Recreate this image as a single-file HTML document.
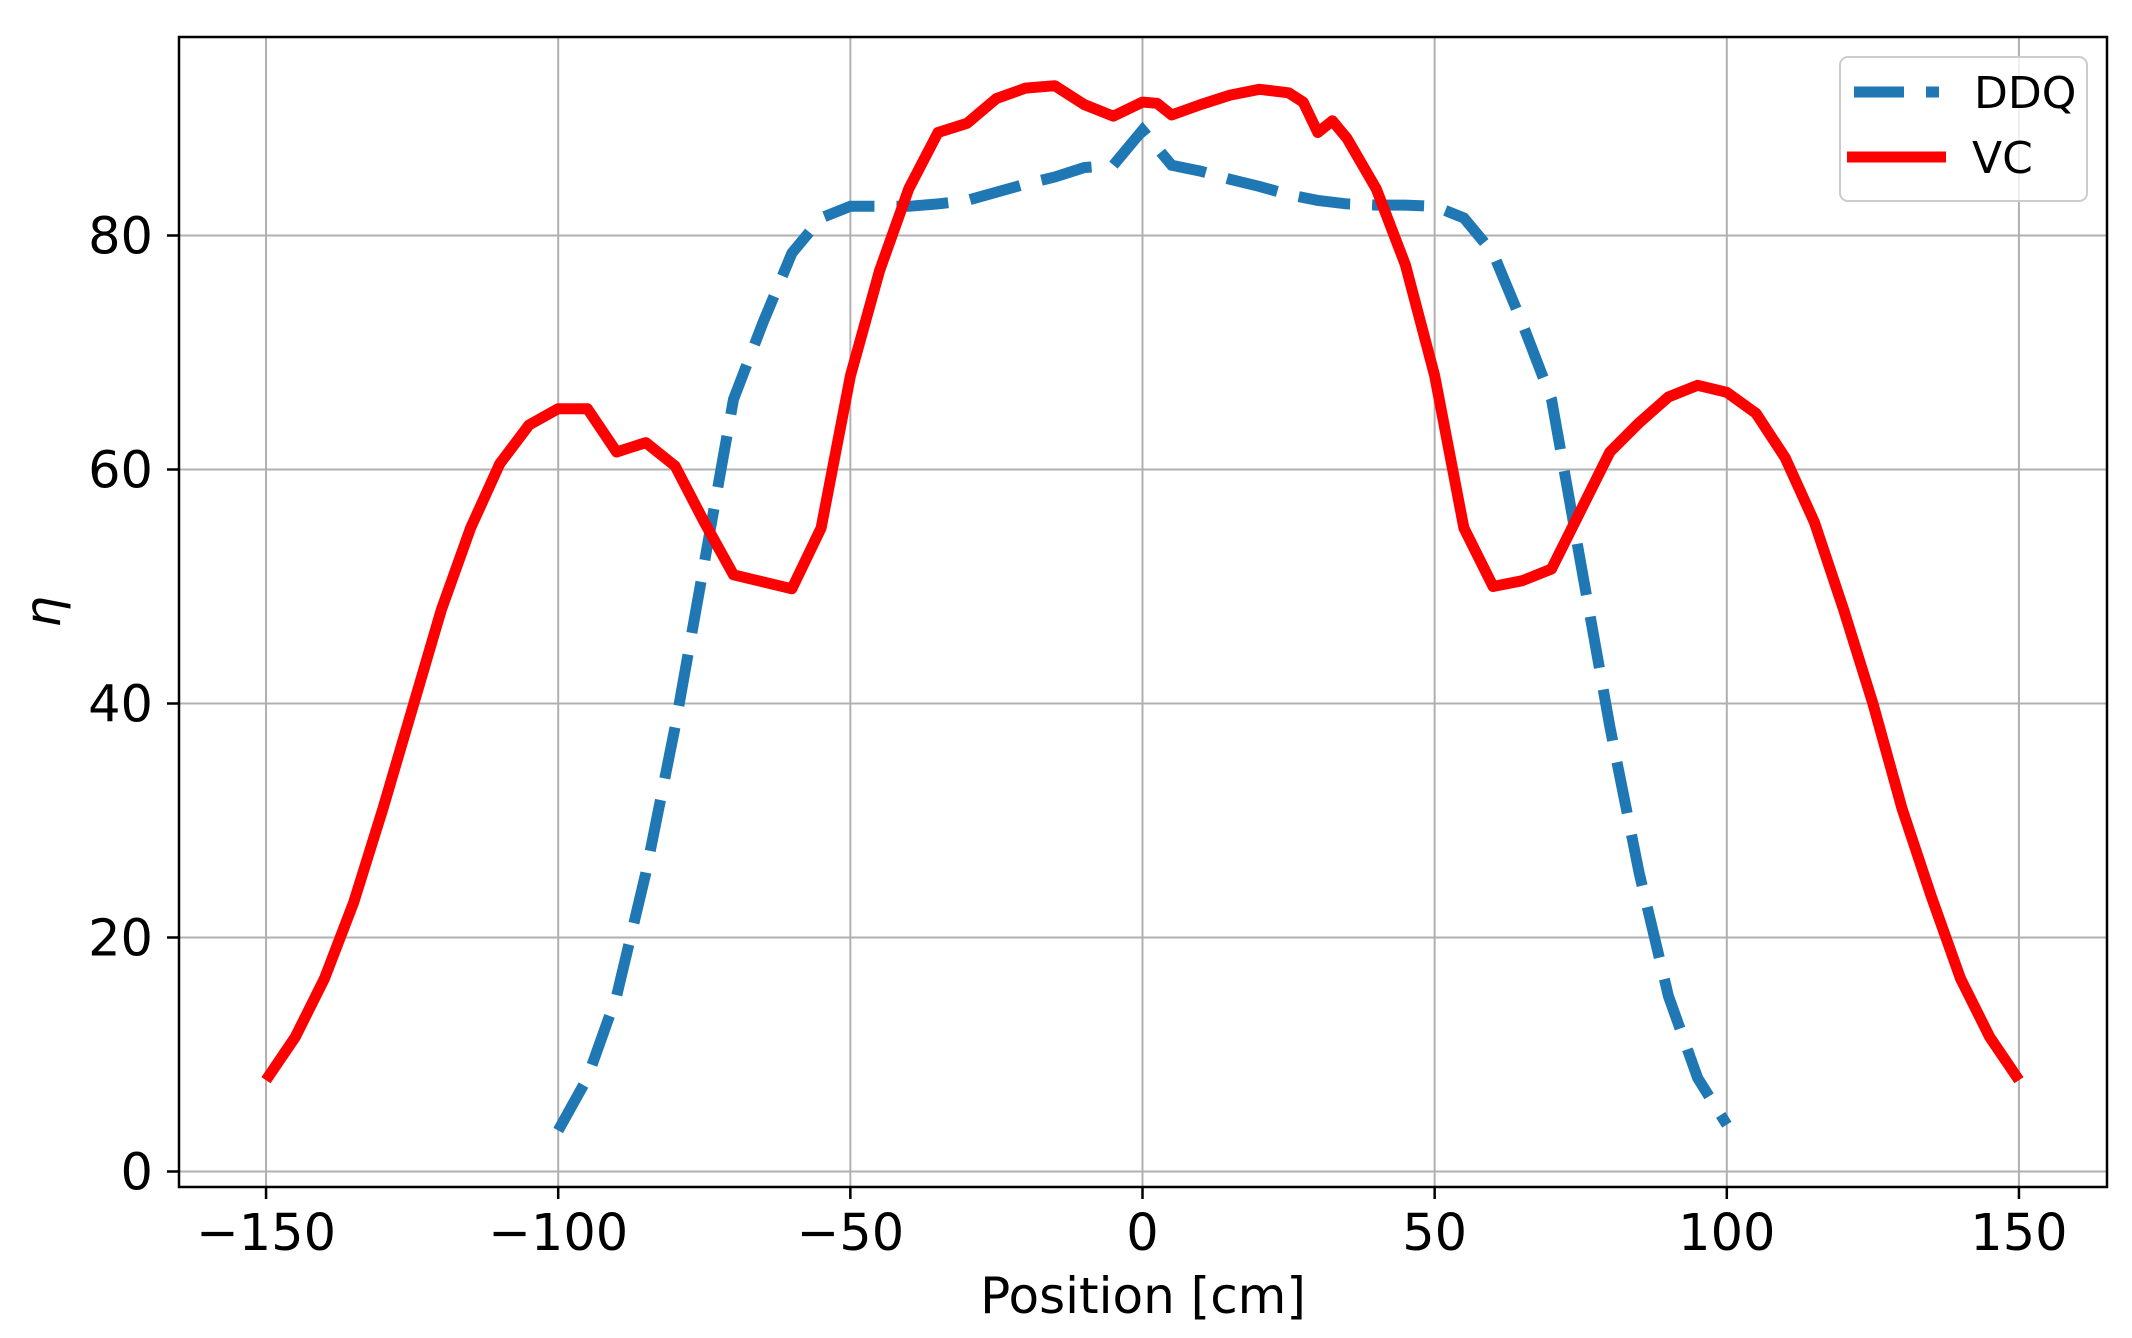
<!DOCTYPE html>
<html><head><meta charset="utf-8"><style>
html,body{margin:0;padding:0;background:#fff;}
svg{display:block;}
text{font-family:"DejaVu Sans","Liberation Sans",sans-serif;fill:#000;}
</style></head><body>
<svg id="s" width="2132" height="1338" viewBox="0 0 2132 1338" xmlns="http://www.w3.org/2000/svg">
<rect x="0" y="0" width="2132" height="1338" fill="#fff"/>
<g id="grid" stroke="#b0b0b0" stroke-width="2"></g>
<g id="ticks" stroke="#000" stroke-width="2.5"></g>
<g id="labels" font-size="51"></g>
<polyline id="ddq" fill="none" stroke="#1f77b4" stroke-width="11" stroke-dasharray="52 22"/>
<polyline id="vc" fill="none" stroke="#ff0000" stroke-width="11" stroke-linejoin="round"/>
<rect x="179" y="37" width="1928" height="1150" fill="none" stroke="#000" stroke-width="2.5"/>
<rect x="1840" y="57" width="247" height="144" rx="8" fill="#fff" fill-opacity="0.8" stroke="#cccccc" stroke-width="2"/>
<line x1="1854" y1="92" x2="1939" y2="92" stroke="#1f77b4" stroke-width="11" stroke-dasharray="50 22"/>
<line x1="1847" y1="157" x2="1946" y2="157" stroke="#ff0000" stroke-width="11"/>
<text x="1974" y="108" font-size="44">DDQ</text>
<text x="1972" y="173" font-size="44">VC</text>
<text x="1143" y="1313" font-size="50" text-anchor="middle">Position [cm]</text>
<text x="0" y="0" font-size="50" font-style="italic" text-anchor="middle" transform="translate(60,612) rotate(-90)">η</text>
</svg>
<script>
var X=function(x){return 1142.5+5.843*x}, Y=function(y){return 1171.5-11.7*y};
var ns="http://www.w3.org/2000/svg";
function el(p,t,a,txt){var e=document.createElementNS(ns,t);for(var k in a)e.setAttribute(k,a[k]);if(txt!==undefined)e.textContent=txt;document.getElementById(p).appendChild(e);}
for(var x=-150;x<=150;x+=50){el("grid","line",{x1:X(x),x2:X(x),y1:37,y2:1187});el("ticks","line",{x1:X(x),x2:X(x),y1:1187,y2:1199});
el("labels","text",{x:X(x),y:1250,"text-anchor":"middle"},(x<0?"\u2212":"")+Math.abs(x));}
for(var y=0;y<=80;y+=20){el("grid","line",{x1:179,x2:2107,y1:Y(y),y2:Y(y)});el("ticks","line",{x1:167,x2:179,y1:Y(y),y2:Y(y)});
el("labels","text",{x:153,y:Y(y)+18,"text-anchor":"end"},""+y);}
var vc=[[-150,7.8],[-145,11.5],[-140,16.5],[-135,23],[-130,31],[-125,39.5],[-120,48],[-115,55],[-110,60.5],[-105,63.8],[-100,65.2],[-95,65.2],[-90,61.5],[-85,62.3],[-80,60.3],[-75,55.5],[-70,51],[-65,50.4],[-60,49.8],[-55,55],[-50,68],[-45,77],[-40,84],[-35,88.8],[-30,89.6],[-25,91.7],[-20,92.6],[-15,92.8],[-10,91.2],[-5,90.2],[0,91.4],[2.5,91.3],[5,90.3],[10,91.2],[15,92],[20,92.5],[25,92.2],[27.5,91.4],[30,88.8],[32.5,89.8],[35,88.3],[40,84],[45,77.5],[50,68],[55,55],[60,50],[65,50.5],[70,51.5],[75,56.5],[80,61.5],[85,64],[90,66.2],[95,67.2],[100,66.6],[105,64.8],[110,61],[115,55.5],[120,48],[125,40],[130,31],[135,23.5],[140,16.5],[145,11.5],[150,7.8]];
var dd=[[-100,3.5],[-95,8],[-90,15],[-85,25.5],[-80,38],[-75,52],[-70,66],[-65,72.5],[-60,78.5],[-55,81.5],[-50,82.5],[-45,82.5],[-40,82.5],[-35,82.7],[-30,83],[-25,83.7],[-20,84.4],[-15,85],[-10,85.8],[-5,86],[0,89],[5,86],[10,85.5],[15,84.8],[20,84.2],[25,83.5],[30,83],[35,82.7],[40,82.6],[45,82.6],[50,82.5],[55,81.5],[60,78.5],[65,72.5],[70,66],[75,52],[80,38],[85,25.5],[90,15],[95,8],[100,4]];
function pts(a){return a.map(function(p){return X(p[0]).toFixed(1)+","+Y(p[1]).toFixed(1)}).join(" ");}
document.getElementById("vc").setAttribute("points",pts(vc));
document.getElementById("ddq").setAttribute("points",pts(dd));
</script>
</body></html>
